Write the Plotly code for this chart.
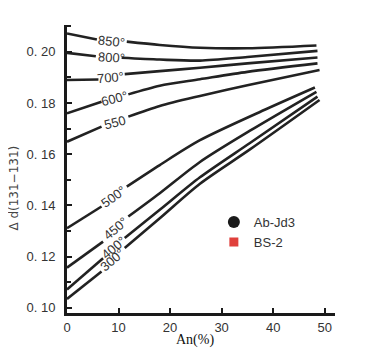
import plotly.graph_objects as go

# An(%) positions and Δd values (None = gap where the label sits)
labels = ["850°", "800°", "700°", "600°", "550", "500°", "450°", "400°", "300°"]

x850 = [0, 5.8, None, 11.6, 18, 25.8, 35, 48.4]
y850 = [0.2072, 0.2048, None, 0.2040, 0.2027, 0.2016, 0.2014, 0.2025]
x800 = [0, 5.6, None, 10.6, 18, 25.8, 35, 48.6]
y800 = [0.1996, 0.1983, None, 0.1977, 0.1970, 0.1966, 0.1980, 0.2004]
x700 = [0, 6.1, None, 11.2, 18, 25.8, 35, 48.6]
y700 = [0.1890, 0.1892, None, 0.1913, 0.1925, 0.1938, 0.1955, 0.1978]
x600 = [0, 6.7, None, 11.9, 18, 25.8, 35, 48.6]
y600 = [0.1760, 0.1805, None, 0.1834, 0.1868, 0.1893, 0.1922, 0.1955]
x550 = [0, 6.7, None, 11.9, 18, 25.8, 35, 49]
y550 = [0.1649, 0.1708, None, 0.1747, 0.1789, 0.1828, 0.1870, 0.1929]
x500 = [0, 6.7, None, 11.6, 18, 25.8, 38.7, 48.1]
y500 = [0.1311, 0.1396, None, 0.1474, 0.1558, 0.1655, 0.1777, 0.1861]
x450 = [0, 7.0, None, 11.9, 18, 25.8, 35.5, 48.4]
y450 = [0.1157, 0.1259, None, 0.1357, 0.1448, 0.1570, 0.1692, 0.1844]
x400 = [0, 7.0, None, 11.2, 18, 25.8, 35.5, 48.6]
y400 = [0.1072, 0.1194, None, 0.1273, 0.1383, 0.1510, 0.1644, 0.1825]
x300 = [0, 6.7, None, 11.2, 18, 25.8, 35.5, 49]
y300 = [0.1035, 0.1142, None, 0.1234, 0.1350, 0.1485, 0.1619, 0.1812]

curves_x = [x850, x800, x700, x600, x550, x500, x450, x400, x300]
curves_y = [y850, y800, y700, y600, y550, y500, y450, y400, y300]

# label anchor points (An, Δd) and rotation
label_x = [8.7, 8.6, 8.5, 9.3, 9.3, 9.1, 9.4, 9.1, 8.9]
label_y = [0.2042, 0.1979, 0.1899, 0.1819, 0.1724, 0.1435, 0.1311, 0.1237, 0.1188]
label_angle = [6, 3, -5, -14, -14, -36, -40, -40, -40]

ytick_vals = [0.10, 0.12, 0.14, 0.16, 0.18, 0.20]
ytick_text = ["0. 10", "0. 12", "0. 14", "0. 16", "0. 18", "0. 20"]
xtick_vals = [0, 10, 20, 30, 40, 50]

legend_names = ["Ab-Jd3", "BS-2"]

fig = go.Figure()
for xs, ys in zip(curves_x, curves_y):
    fig.add_trace(go.Scatter(x=xs, y=ys, mode="lines",
                             line=dict(color="#222222", width=2.6, shape="spline", smoothing=0.8),
                             showlegend=False, hoverinfo="skip"))

fig.add_trace(go.Scatter(x=[None], y=[None], mode="markers", name=legend_names[0],
                         marker=dict(symbol="circle", size=12, color="#1a1a1a")))
fig.add_trace(go.Scatter(x=[None], y=[None], mode="markers", name=legend_names[1],
                         marker=dict(symbol="square", size=9, color="#e0403c")))

for t, lx, ly, ang in zip(labels, label_x, label_y, label_angle):
    fig.add_annotation(x=lx, y=ly, text=t, showarrow=False, textangle=ang,
                       font=dict(family="Liberation Sans, Arial", size=13, color="#333333"))

fig.add_annotation(xref="paper", yref="paper", x=-0.203, y=0.434,
                   xanchor="center", yanchor="middle",
                   text="Δ d(131−13\u03051)", textangle=-90, showarrow=False,
                   font=dict(family="DejaVu Sans", size=12, color="#444444"))
fig.add_annotation(xref="paper", yref="paper", x=0.478, y=-0.094,
                   xanchor="center", yanchor="middle",
                   text="An(%)", showarrow=False,
                   font=dict(family="Liberation Serif, Times New Roman", size=14, color="#111111"))

# page body has an 8px margin, so the figure is drawn 8px smaller and offset
fig.update_layout(
    width=361, height=350, autosize=False,
    margin=dict(l=59, r=34, t=17, b=45),
    paper_bgcolor="white", plot_bgcolor="white",
    legend=dict(x=0.548, y=0.281, xanchor="left", yanchor="middle",
                bgcolor="rgba(0,0,0,0)", borderwidth=0, itemwidth=30,
                font=dict(family="Liberation Sans, Arial", size=13, color="#333333")),
)
fig.update_xaxes(range=[0, 52], tickvals=xtick_vals, showgrid=False, zeroline=False,
                 automargin=False,
                 showline=True, linecolor="#1a1a1a", linewidth=3,
                 ticks="inside", ticklen=5, tickwidth=2, tickcolor="#1a1a1a",
                 tickfont=dict(family="Liberation Sans, Arial", size=13, color="#333333"))
fig.update_yaxes(range=[0.098, 0.2105], tickvals=ytick_vals, ticktext=ytick_text,
                 showgrid=False, zeroline=False, automargin=False,
                 showline=True, linecolor="#1a1a1a", linewidth=3,
                 ticks="inside", ticklen=5, tickwidth=2, tickcolor="#1a1a1a",
                 ticklabelstandoff=6,
                 minor=dict(dtick=0.01, tick0=0.10, ticks="inside", ticklen=4, tickwidth=2, tickcolor="#1a1a1a"),
                 tickfont=dict(family="Liberation Sans, Arial", size=13, color="#333333"))

fig.write_html("out.html")
